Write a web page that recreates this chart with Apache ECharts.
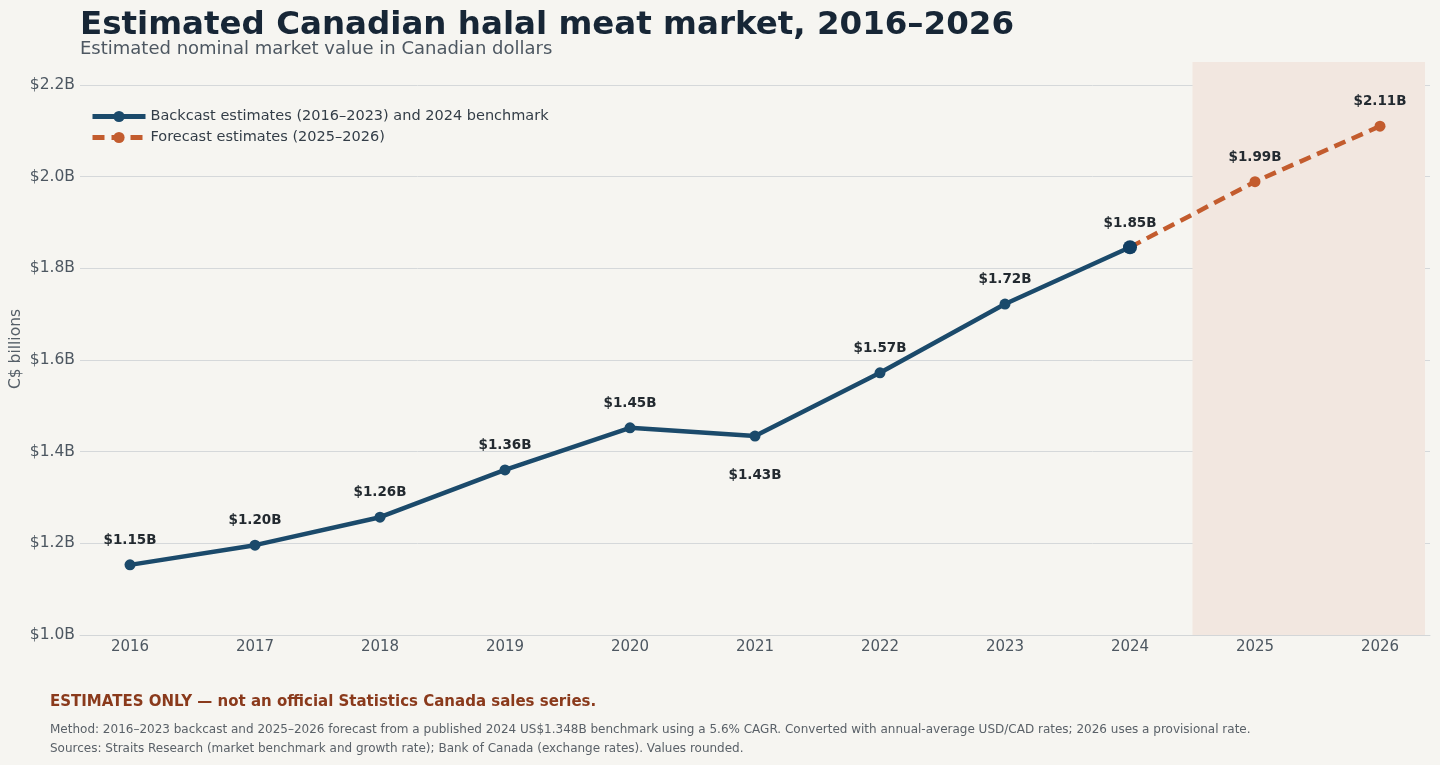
<!DOCTYPE html>
<html>
<head>
<meta charset="utf-8">
<script src="https://cdn.jsdelivr.net/npm/echarts@6/dist/echarts.min.js"></script>
<style>
html,body{margin:0;padding:0;background:#f6f5f1;}
#chart{width:1440px;height:765px;}
</style>
</head>
<body>
<div id="chart"></div>
<script>
const years = [2016, 2017, 2018, 2019, 2020, 2021, 2022, 2023, 2024, 2025, 2026];
const backcastYears = [2016, 2017, 2018, 2019, 2020, 2021, 2022, 2023, 2024];
const backcastValues = [1.153, 1.196, 1.257, 1.360, 1.452, 1.434, 1.572, 1.722, 1.846];
const forecastYears = [2024, 2025, 2026];
const forecastValues = [1.846, 1.989, 2.110];
const yTicks = [1.0, 1.2, 1.4, 1.6, 1.8, 2.0, 2.2];
const forecastBand = [2024.5, 2026.36];

const FONT = 'DejaVu Sans';
const BLUE = '#1b4a6b';
const ORANGE = '#c35c2e';
const fmt = v => '$' + v.toFixed(2) + 'B';

const labelTop = (d) => ({show: true, position: 'top', distance: d, formatter: p => fmt(p.value[1]),
  fontFamily: FONT, fontSize: 13.5, fontWeight: 'bold', color: '#232a30'});

const backData = backcastYears.map((y, i) => {
  const item = {value: [y, backcastValues[i]], label: labelTop(12)};
  if (y === 2021) item.label = Object.assign(labelTop(27), {position: 'bottom'});
  if (y === 2024) { item.symbolSize = 14; item.label = labelTop(10); item.itemStyle = {color: '#123f63'}; }
  return item;
});
const foreData = forecastYears.map((y, i) => {
  const item = {value: [y, forecastValues[i]], label: labelTop(12)};
  if (i === 0) { item.symbol = 'none'; item.label = {show: false}; }
  return item;
});

const chart = echarts.init(document.getElementById('chart'));
chart.setOption({
  backgroundColor: '#f6f5f1',
  animation: false,
  title: {
    text: 'Estimated Canadian halal meat market, 2016–2026',
    subtext: 'Estimated nominal market value in Canadian dollars',
    left: 75, top: 4, itemGap: -2,
    textStyle: {fontFamily: FONT, fontSize: 32.5, fontWeight: 'bold', color: '#172636'},
    subtextStyle: {fontFamily: FONT, fontSize: 18, color: '#4d5761'}
  },
  legend: {
    orient: 'vertical', left: 85, top: 104, itemGap: 6, itemWidth: 53, itemHeight: 14,
    textStyle: {fontFamily: FONT, fontSize: 14.5, color: '#333d47'},
    data: [
      {name: 'Backcast estimates (2016–2023) and 2024 benchmark', lineStyle: {width: 5}},
      {name: 'Forecast estimates (2025–2026)', lineStyle: {width: 5}}
    ]
  },
  grid: {left: 80, right: 10, top: 62, bottom: 130, outerBoundsMode: 'none', containLabel: false},
  xAxis: {
    type: 'value', min: 2015.6, max: 2026.4,
    axisLine: {show: true, lineStyle: {color: '#d3d6d8', width: 1}},
    axisTick: {show: false},
    splitLine: {show: false},
    axisLabel: {customValues: years, formatter: v => String(v), fontFamily: FONT, fontSize: 15, color: '#4d5761', margin: 5}
  },
  yAxis: {
    type: 'value', min: 1.0, max: 2.25,
    axisLine: {show: false}, axisTick: {show: false, customValues: yTicks},
    splitLine: {show: true, lineStyle: {color: '#d5d8da', width: 1}},
    axisLabel: {customValues: yTicks, formatter: v => '$' + v.toFixed(1) + 'B', fontFamily: FONT, fontSize: 15.5, color: '#4d5761', margin: 5}
  },
  series: [
    {
      name: 'Forecast estimates (2025–2026)', type: 'line', z: 2,
      data: foreData, symbol: 'circle', symbolSize: 11,
      lineStyle: {color: ORANGE, width: 4.5, type: [12, 7]},
      itemStyle: {color: ORANGE},
      markArea: {silent: true, itemStyle: {color: '#f2e7e0'}, data: [[{xAxis: forecastBand[0]}, {xAxis: forecastBand[1]}]]}
    },
    {
      name: 'Backcast estimates (2016–2023) and 2024 benchmark', type: 'line', z: 3,
      data: backData, symbol: 'circle', symbolSize: 11,
      lineStyle: {color: BLUE, width: 4.5},
      itemStyle: {color: BLUE}
    }
  ],
  graphic: [
    {type: 'text', x: 16, y: 349, rotation: Math.PI / 2, style: {text: 'C$ billions', font: '15.5px "DejaVu Sans"', fill: '#555f68', align: 'center', verticalAlign: 'middle'}},
    {type: 'text', left: 50, top: 695, style: {text: 'ESTIMATES ONLY — not an official Statistics Canada sales series.', font: 'bold 15px "DejaVu Sans"', fill: '#8a3a1c'}},
    {type: 'text', left: 50, top: 724, style: {text: 'Method: 2016–2023 backcast and 2025–2026 forecast from a published 2024 US$1.348B benchmark using a 5.6% CAGR. Converted with annual-average USD/CAD rates; 2026 uses a provisional rate.', font: '12px "DejaVu Sans"', fill: '#5a6168'}},
    {type: 'text', left: 50, top: 743, style: {text: 'Sources: Straits Research (market benchmark and growth rate); Bank of Canada (exchange rates). Values rounded.', font: '12px "DejaVu Sans"', fill: '#5a6168'}}
  ]
});
</script>
</body>
</html>
